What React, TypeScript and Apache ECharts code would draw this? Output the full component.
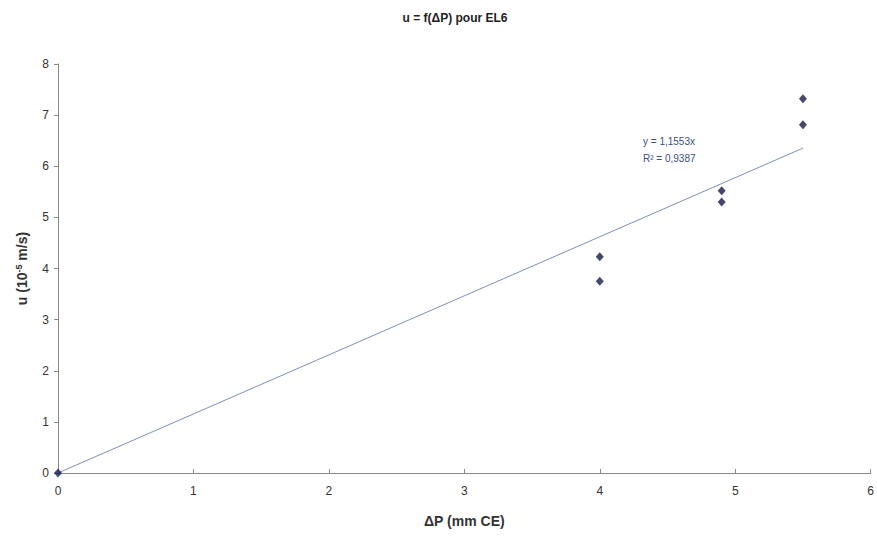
import React, { useEffect, useRef } from "react";
import * as echarts from "echarts";

const pointsX = [0, 4, 4, 4.9, 4.9, 5.5, 5.5];
const pointsY = [0, 4.23, 3.75, 5.52, 5.3, 7.32, 6.81];
const trendSlope = 1.1553;
const trendR2 = "0,9387";
const trendXRange = [0, 5.5];
const xTicks = [0, 1, 2, 3, 4, 5, 6];
const yTicks = [0, 1, 2, 3, 4, 5, 6, 7, 8];

export default function App() {
  const ref = useRef<HTMLDivElement>(null);
  useEffect(() => {
    if (!ref.current) return;
    const chart = echarts.init(ref.current, undefined, { renderer: "svg" });
    const font = "'Liberation Sans', Arial, sans-serif";
    const trendData = trendXRange.map((x) => [x, x * trendSlope]);
    chart.setOption({
      animation: false,
      backgroundColor: "#ffffff",
      textStyle: { fontFamily: font },
      title: {
        text: "u = f(ΔP) pour EL6",
        left: 450,
        top: 7,
        textAlign: "center",
        textStyle: { fontSize: 12, fontWeight: "bold", color: "#222", fontFamily: font },
      },
      grid: { left: 58, right: 6, top: 64, bottom: 69 },
      xAxis: {
        type: "value",
        min: xTicks[0],
        max: xTicks[xTicks.length - 1],
        interval: 1,
        name: "ΔP (mm CE)",
        nameLocation: "middle",
        nameGap: 41,
        nameTextStyle: { fontSize: 14, fontWeight: "bold", color: "#333", fontFamily: font },
        axisLine: { lineStyle: { color: "#888", width: 1 } },
        axisTick: { inside: true, length: 4, lineStyle: { color: "#888" } },
        axisLabel: { fontSize: 12, color: "#333", margin: 12, fontFamily: font },
        splitLine: { show: false },
      },
      yAxis: {
        type: "value",
        min: yTicks[0],
        max: yTicks[yTicks.length - 1],
        interval: 1,
        name: "u (10{sup|-5} m/s)",
        nameLocation: "middle",
        nameGap: 28,
        nameRotate: 90,
        nameTextStyle: {
          fontSize: 14,
          fontWeight: "bold",
          color: "#333",
          fontFamily: font,
          rich: {
            sup: { fontSize: 9, fontWeight: "bold", color: "#333", verticalAlign: "top", padding: [0, 0, 7, 0], fontFamily: font },
          },
        },
        axisLine: { show: true, lineStyle: { color: "#888", width: 1 } },
        axisTick: { show: true, length: 4, lineStyle: { color: "#888" } },
        axisLabel: { fontSize: 12, color: "#333", margin: 9, fontFamily: font },
        splitLine: { show: false },
      },
      series: [
        {
          type: "line",
          data: trendData,
          showSymbol: false,
          symbol: "none",
          lineStyle: { color: "#7f8fb5", width: 1 },
          z: 2,
        },
        {
          type: "scatter",
          data: pointsX.map((x, i) => [x, pointsY[i]]),
          symbol: "diamond",
          symbolSize: [8, 9],
          itemStyle: { color: "#151a48" },
          z: 3,
        },
      ],
      graphic: [
        {
          type: "text",
          left: 643,
          top: 133,
          style: {
            text: "y = 1,1553x\nR² = " + trendR2,
            fontSize: 10,
            lineHeight: 17,
            fill: "#3a4f85",
            fontFamily: font,
          },
        },
      ],
    });
    return () => chart.dispose();
  }, []);
  return <div ref={ref} style={{ width: 877, height: 542, position: "absolute", left: 0, top: 0 }} />;
}
